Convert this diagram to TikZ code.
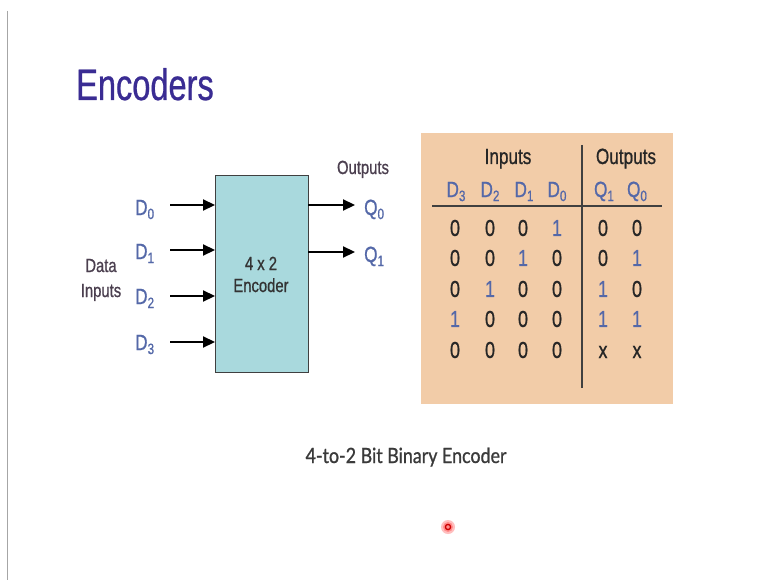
\documentclass[tikz,border=0pt]{standalone}
\usepackage{fontspec}
\setmainfont{Liberation Sans}
\newfontfamily\narrowf{Liberation Sans}[FakeStretch=0.78,FakeBold=0.8]
\newfontfamily\titlef{Liberation Sans}[FakeStretch=0.74,FakeBold=0.6]
\newfontfamily\capf{Lato}[FakeStretch=0.85,FakeBold=0.9]
\usetikzlibrary{arrows.meta}
\definecolor{titleblue}{HTML}{3A2C93}
\definecolor{dblue}{HTML}{5468A8}
\definecolor{boxfill}{HTML}{A9D9DD}
\definecolor{tablefill}{HTML}{F2CCA8}
\definecolor{labelc}{HTML}{4B3F4F}
\definecolor{capc}{HTML}{3A3A3A}
\newcommand\sbs[1]{\raisebox{-0.35ex}{\fontsize{15}{15}\selectfont #1}}
\tikzset{
  sig/.style={font=\narrowf\fontsize{22}{22}\selectfont, text=dblue, anchor=base west, inner sep=0},
  lbl/.style={font=\narrowf\fontsize{19}{19}\selectfont, text=labelc, anchor=base, inner sep=0},
  arr/.style={line width=2.2pt, -{Triangle[length=12pt,width=11pt]}},
  cell/.style={font=\narrowf\fontsize{23}{23}\selectfont, text=black!85, anchor=center, inner sep=0},
  bcell/.style={cell, text=dblue},
  hd/.style={font=\narrowf\fontsize{22}{22}\selectfont, text=dblue, anchor=base, inner sep=0},
  th/.style={font=\narrowf\fontsize{22}{22}\selectfont, text=black!85, anchor=base, inner sep=0},
}
\begin{document}
\begin{tikzpicture}[x=1pt,y=-1pt]
\useasboundingbox (0,0) rectangle (767,580);
\fill[white] (0,0) rectangle (767,580);
\draw[gray!70, line width=1pt] (7,11) -- (7,580);
\node[anchor=base west, inner sep=0, font=\titlef\fontsize{44}{44}\selectfont, text=titleblue] (title) at (76,100) {Encoders};

% block diagram
\node[draw=black!75, line width=1.2pt, fill=boxfill, minimum width=93pt, minimum height=197pt, anchor=north west, inner sep=0] (enc) at (215,175) {};
\node[lbl, text=black!80] (e1) at (261,270) {4 x 2};
\node[lbl, text=black!80] (e2) at (261,292) {Encoder};

\foreach \i/\y in {0/205,1/250,2/296,3/342}{
  \coordinate (s\i) at (170,\y);
  \coordinate (t\i) at (215,\y);
  \draw[arr] (s\i) -- (t\i);
}
\node[sig] (d0) at (135,215) {D\sbs{0}};
\node[sig] (d1) at (135,259) {D\sbs{1}};
\node[sig] (d2) at (135,304) {D\sbs{2}};
\node[sig] (d3) at (135,350) {D\sbs{3}};
\node[lbl] (di1) at (101,272) {Data};
\node[lbl] (di2) at (101,297) {Inputs};

\coordinate (o0s) at (308,205); \coordinate (o0e) at (355,205);
\coordinate (o1s) at (308,252); \coordinate (o1e) at (355,252);
\draw[arr] (o0s) -- (o0e);
\draw[arr] (o1s) -- (o1e);
\node[sig] (q0) at (364,215) {Q\sbs{0}};
\node[sig] (q1) at (364,262) {Q\sbs{1}};
\node[lbl] (outs) at (363,174) {Outputs};

% truth table
\fill[tablefill] (421,133) rectangle (673,404);
\draw[black!75, line width=1.4pt] (582,145) -- (582,388);
\draw[black!75, line width=1.4pt] (432,206) -- (662,206);
\node[th] (hin) at (508,164) {Inputs};
\node[th] (hout) at (626,164) {Outputs};
\node[hd] (h3) at (456,197) {D\sbs{3}};
\node[hd] (h2) at (490,197) {D\sbs{2}};
\node[hd] (h1) at (524,197) {D\sbs{1}};
\node[hd] (h0) at (557,197) {D\sbs{0}};
\node[hd] (hq1) at (604,197) {Q\sbs{1}};
\node[hd] (hq0) at (637,197) {Q\sbs{0}};

% rows
\node[cell] (r1a) at (455,228) {0}; \node[cell] (r1b) at (490,228) {0}; \node[cell] (r1c) at (523,228) {0}; \node[bcell] (r1d) at (557,228) {1}; \node[cell] (r1e) at (603,228) {0}; \node[cell] (r1f) at (637,228) {0};
\node[cell] (r2a) at (455,258) {0}; \node[cell] (r2b) at (490,258) {0}; \node[bcell] (r2c) at (523,258) {1}; \node[cell] (r2d) at (557,258) {0}; \node[cell] (r2e) at (603,258) {0}; \node[bcell] (r2f) at (637,258) {1};
\node[cell] (r3a) at (455,289) {0}; \node[bcell] (r3b) at (490,289) {1}; \node[cell] (r3c) at (523,289) {0}; \node[cell] (r3d) at (557,289) {0}; \node[bcell] (r3e) at (603,289) {1}; \node[cell] (r3f) at (637,289) {0};
\node[bcell] (r4a) at (455,319) {1}; \node[cell] (r4b) at (490,319) {0}; \node[cell] (r4c) at (523,319) {0}; \node[cell] (r4d) at (557,319) {0}; \node[bcell] (r4e) at (603,319) {1}; \node[bcell] (r4f) at (637,319) {1};
\node[cell] (r5a) at (455,350) {0}; \node[cell] (r5b) at (490,350) {0}; \node[cell] (r5c) at (523,350) {0}; \node[cell] (r5d) at (557,350) {0}; \node[cell] (r5e) at (603,352) {x}; \node[cell] (r5f) at (637,352) {x};

% caption
\node[anchor=base, inner sep=0, font=\capf\fontsize{21}{21}\selectfont, text=capc] (cap) at (406,463) {4-to-2 Bit Binary Encoder};

% pointer dot
\fill[red!25] (448,527) circle (7pt);
\fill[red!45] (448,527) circle (5pt);
\draw[red!80!black, line width=1.3pt] (448,527) circle (2.6pt);
\end{tikzpicture}
\end{document}
